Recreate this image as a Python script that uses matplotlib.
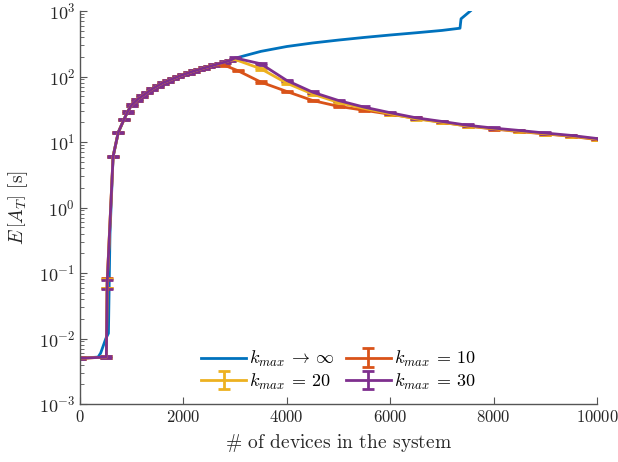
import numpy as np
import matplotlib
matplotlib.use("Agg")
import matplotlib.pyplot as plt

plt.rcParams['font.family'] = 'serif'
plt.rcParams['font.serif'] = ['cmr10']
plt.rcParams['mathtext.fontset'] = 'cm'
plt.rcParams['axes.formatter.use_mathtext'] = True

# shared rising part of all curves
common_n = [740, 850, 920, 1000, 1100, 1200, 1300, 1400, 1500, 1600, 1700, 1800,
            1900, 2000, 2100, 2200, 2300, 2400, 2500, 2600, 2700, 2800, 2900]
common_t = [14, 22, 29, 37, 44, 50, 57, 65, 72, 80, 86, 93,
            100, 107, 114, 121, 128, 135, 142, 150, 158, 166, 176]

# k_max -> inf
inf_n = [0, 350, 400, 500, 550, 580, 640] + common_n + \
        [3000, 3500, 4000, 4500, 5000, 5500, 6000, 6500, 7000, 7350, 7370, 7550]
inf_t = [0.005, 0.0052, 0.006, 0.010, 0.012, 0.4, 6] + common_t + \
        [190, 242, 287, 325, 360, 395, 430, 465, 505, 546, 760, 1000]

# k_max = 10
k10_n = [0, 510, 525, 640] + common_n[:20] + \
        [2780, 3050, 3500, 4000, 4500, 5000, 5500, 6000, 6500, 7000, 7500, 8000, 8500, 9000, 9500, 10000]
k10_t = [0.005, 0.0052, 0.072, 6] + common_t[:20] + \
        [150, 123, 82, 59, 43, 35, 30.5, 26.5, 23, 20, 17.5, 15.8, 14.4, 13.3, 12.2, 10.9]

# k_max = 20
k20_n = [0, 510, 525, 640] + common_n + \
        [3000, 3500, 4000, 4500, 5000, 5500, 6000, 6500, 7000, 7500, 8000, 8500, 9000, 9500, 10000]
k20_t = [0.005, 0.0052, 0.07, 6] + common_t + \
        [182, 131, 79, 54, 40, 32.5, 27, 22.5, 20, 17.5, 16, 14.6, 13.4, 12.3, 11.1]

# k_max = 30
k30_n = [0, 510, 525, 640] + common_n + \
        [3000, 3500, 4000, 4500, 5000, 5500, 6000, 6500, 7000, 7500, 8000, 8500, 9000, 9500, 10000]
k30_t = [0.005, 0.0052, 0.068, 6] + common_t + \
        [192, 156, 87, 57.6, 43, 34, 28, 23.4, 20.6, 18, 16.3, 15, 13.7, 12.6, 11.3]

blue = '#0072BD'
orange = '#D95319'
yellow = '#EDB120'
purple = '#7E2F8E'


def rel_err(n, t):
    t = np.asarray(t, dtype=float)
    e = 0.03 * t
    # wider spread at the transition point
    e[2] = 0.17 * t[2]
    return e


fig = plt.figure(figsize=(6.18, 4.62), dpi=100)
ax = fig.add_axes([80 / 618, 58 / 462, 517 / 618, 393 / 462])

h_inf, = ax.plot(inf_n, inf_t, color=blue, lw=2.0)
h10 = ax.errorbar(k10_n, k10_t, yerr=rel_err(k10_n, k10_t), color=orange, lw=2.0,
                  capsize=4, capthick=2.0, elinewidth=2.0)
h20 = ax.errorbar(k20_n, k20_t, yerr=rel_err(k20_n, k20_t), color=yellow, lw=2.0,
                  capsize=4, capthick=2.0, elinewidth=2.0)
h30 = ax.errorbar(k30_n, k30_t, yerr=rel_err(k30_n, k30_t), color=purple, lw=2.0,
                  capsize=4, capthick=2.0, elinewidth=2.0)

ax.set_yscale('log')
ax.set_xlim(0, 10000)
ax.set_ylim(1e-3, 1e3)
ax.set_xticks([0, 2000, 4000, 6000, 8000, 10000])
ax.set_yticks([1e-3, 1e-2, 1e-1, 1e0, 1e1, 1e2, 1e3])

for side in ['top', 'right']:
    ax.spines[side].set_visible(False)
for side in ['left', 'bottom']:
    ax.spines[side].set_color('#555555')
    ax.spines[side].set_linewidth(1.0)
ax.tick_params(which='both', direction='in', colors='#555555', labelcolor='#262626', labelsize=12)
ax.tick_params(axis='y', labelsize=13)
ax.tick_params(which='major', length=5)
ax.tick_params(which='minor', length=3)

ax.set_xlabel(r'$\#$ of devices in the system', fontsize=14, color='#262626', labelpad=5)
ax.set_ylabel(r'$E\,\left[A_T\right]$ [s]', fontsize=14, color='#262626', labelpad=6)

ax.legend([h_inf, h20, h10, h30],
          [r'$k_{max}\: \rightarrow\: \infty$', r'$k_{max}\: =\: 20$',
           r'$k_{max}\: =\: 10$', r'$k_{max}\: =\: 30$'],
          ncol=2, frameon=False, fontsize=13, loc='lower center',
          bbox_to_anchor=(0.5, -0.01), handlelength=2.5, columnspacing=0.6,
          handletextpad=0.15, labelspacing=0.15)

fig.savefig('out.png', dpi=100)
